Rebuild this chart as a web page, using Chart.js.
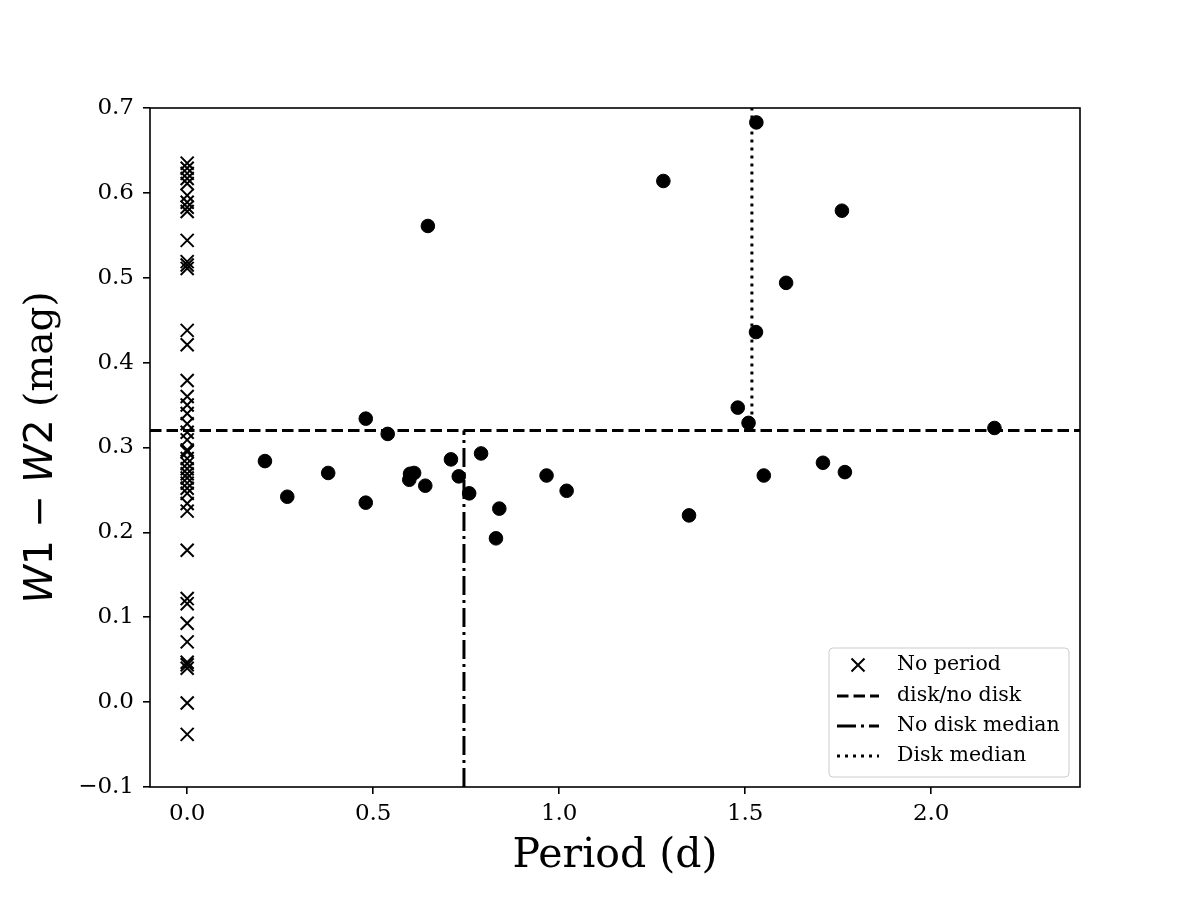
<!DOCTYPE html>
<html>
<head>
<meta charset="utf-8">
<script src="https://cdn.jsdelivr.net/npm/chart.js@4/dist/chart.umd.min.js"></script>
<style>
  html, body { margin: 0; padding: 0; background: #fff; }
  #c { display: block; }
</style>
</head>
<body>
<canvas id="c" width="1200" height="900"></canvas>
<script>
// ---- data ----
const noPeriodW12 = [0.635, 0.629, 0.623, 0.617, 0.611, 0.597, 0.589, 0.583, 0.578,
  0.544, 0.519, 0.515, 0.511, 0.438, 0.421, 0.379, 0.360, 0.350, 0.340, 0.328,
  0.318, 0.309, 0.297, 0.295, 0.287, 0.281, 0.275, 0.269, 0.264, 0.258, 0.252,
  0.246, 0.234, 0.225, 0.179, 0.122, 0.116, 0.093, 0.071, 0.047, 0.044, 0.040,
  -0.001, -0.038];
const periodDays = [0.209, 0.269, 0.379, 0.480, 0.480, 0.539, 0.599, 0.610, 0.597,
  0.640, 0.647, 0.709, 0.730, 0.758, 0.790, 0.839, 0.830, 0.966, 1.020, 1.280,
  1.349, 1.480, 1.509, 1.530, 1.529, 1.550, 1.610, 1.709, 1.760, 1.768, 2.170];
const periodW12 = [0.284, 0.242, 0.270, 0.334, 0.235, 0.316, 0.269, 0.270, 0.262,
  0.255, 0.561, 0.286, 0.266, 0.246, 0.293, 0.228, 0.193, 0.267, 0.249, 0.614,
  0.220, 0.347, 0.329, 0.683, 0.436, 0.267, 0.494, 0.282, 0.579, 0.271, 0.323];
const diskThreshold = 0.32;
const noDiskMedian = 0.744;
const diskMedian = 1.518;
const xTicks = [0.0, 0.5, 1.0, 1.5, 2.0];
const yTicks = [-0.1, 0.0, 0.1, 0.2, 0.3, 0.4, 0.5, 0.6, 0.7];
const xRange = [-0.1, 2.4];
const yRange = [-0.1, 0.7];
const legendLabels = ['No period', 'disk/no disk', 'No disk median', 'Disk median'];
const xTitle = 'Period (d)';

// ---- build datasets ----
const noPeriodPts = noPeriodW12.map(v => ({ x: 0, y: v }));
const periodPts = periodDays.map((p, i) => ({ x: p, y: periodW12[i] }));

const DASH = [11.5, 5];
const DASHDOT = [19, 5, 3, 5];
const DOT = [3, 5];

const framePlugin = {
  id: 'frameAndText',
  afterDraw(chart) {
    const ctx = chart.ctx;
    const a = chart.chartArea;
    ctx.save();
    // frame
    ctx.strokeStyle = '#000';
    ctx.lineWidth = 1.6;
    ctx.setLineDash([]);
    ctx.strokeRect(a.left, a.top, a.right - a.left, a.bottom - a.top);

    // x title
    ctx.fillStyle = '#000';
    ctx.font = '41px "DejaVu Serif"';
    ctx.textAlign = 'center';
    ctx.textBaseline = 'alphabetic';
    ctx.fillText(xTitle, (a.left + a.right) / 2, 867);

    // y title (mathtext-like)
    const F = 39;
    const segs = [
      { t: 'W', f: 'italic ' + F + 'px "DejaVu Sans"' },
      { t: '1', f: F + 'px "DejaVu Sans"' },
      { t: ' \u2212 ', f: F + 'px "DejaVu Sans"' },
      { t: 'W', f: 'italic ' + F + 'px "DejaVu Sans"' },
      { t: '2', f: F + 'px "DejaVu Sans"' },
      { t: ' (mag)', f: F + 'px "DejaVu Serif"' }
    ];
    let total = 0;
    segs.forEach(s => { ctx.font = s.f; s.w = ctx.measureText(s.t).width; total += s.w; });
    ctx.translate(52, (a.top + a.bottom) / 2);
    ctx.rotate(-Math.PI / 2);
    ctx.textAlign = 'left';
    let cx = -total / 2;
    segs.forEach(s => { ctx.font = s.f; ctx.fillText(s.t, cx, 0); cx += s.w; });
    ctx.restore();

    // legend
    ctx.save();
    const lx = 829, ly = 648, lw = 240, lh = 129, r = 4;
    ctx.beginPath();
    ctx.moveTo(lx + r, ly);
    ctx.arcTo(lx + lw, ly, lx + lw, ly + lh, r);
    ctx.arcTo(lx + lw, ly + lh, lx, ly + lh, r);
    ctx.arcTo(lx, ly + lh, lx, ly, r);
    ctx.arcTo(lx, ly, lx + lw, ly, r);
    ctx.closePath();
    ctx.fillStyle = 'rgba(255,255,255,0.8)';
    ctx.fill();
    ctx.strokeStyle = '#cccccc';
    ctx.lineWidth = 1;
    ctx.stroke();

    const rows = [665, 696, 726, 756];
    const h0 = 837, h1 = 879;
    ctx.strokeStyle = '#000';
    // X marker
    ctx.lineWidth = 2;
    const mx = (h0 + h1) / 2, my = rows[0], d = 6.5;
    ctx.beginPath();
    ctx.moveTo(mx - d, my - d); ctx.lineTo(mx + d, my + d);
    ctx.moveTo(mx - d, my + d); ctx.lineTo(mx + d, my - d);
    ctx.stroke();
    // line samples
    const dashes = [DASH, DASHDOT, DOT];
    ctx.lineWidth = 3;
    for (let i = 0; i < 3; i++) {
      ctx.setLineDash(dashes[i]);
      ctx.beginPath();
      ctx.moveTo(h0, rows[i + 1]);
      ctx.lineTo(h1, rows[i + 1]);
      ctx.stroke();
    }
    ctx.setLineDash([]);
    ctx.fillStyle = '#000';
    ctx.font = '20.5px "DejaVu Serif"';
    ctx.textAlign = 'left';
    ctx.textBaseline = 'middle';
    legendLabels.forEach((t, i) => ctx.fillText(t, 897, rows[i]));
    ctx.restore();
  }
};

const tickFont = { family: 'DejaVu Serif', size: 23 };
const fmt = v => (v < 0 ? '\u2212' + Math.abs(v).toFixed(1) : v.toFixed(1));

new Chart(document.getElementById('c'), {
  type: 'scatter',
  data: {
    datasets: [
      {
        label: legendLabels[0],
        data: noPeriodPts,
        pointStyle: 'crossRot',
        pointRadius: 9.2,
        pointBorderWidth: 2,
        borderColor: '#000',
        backgroundColor: '#000',
        order: 1
      },
      {
        label: 'Period',
        data: periodPts,
        pointStyle: 'circle',
        pointRadius: 6.8,
        pointBorderWidth: 1,
        borderColor: '#000',
        backgroundColor: '#000',
        order: 0
      },
      {
        label: legendLabels[1],
        type: 'line',
        data: [{ x: xRange[0], y: diskThreshold }, { x: xRange[1], y: diskThreshold }],
        borderColor: '#000',
        borderWidth: 3,
        borderDash: DASH,
        pointRadius: 0,
        fill: false,
        order: 2
      },
      {
        label: legendLabels[2],
        type: 'line',
        data: [{ x: noDiskMedian, y: yRange[0] }, { x: noDiskMedian, y: diskThreshold }],
        borderColor: '#000',
        borderWidth: 3,
        borderDash: DASHDOT,
        pointRadius: 0,
        fill: false,
        order: 2
      },
      {
        label: legendLabels[3],
        type: 'line',
        data: [{ x: diskMedian, y: diskThreshold }, { x: diskMedian, y: yRange[1] }],
        borderColor: '#000',
        borderWidth: 3,
        borderDash: DOT,
        pointRadius: 0,
        fill: false,
        order: 2
      }
    ]
  },
  options: {
    responsive: false,
    animation: false,
    devicePixelRatio: 1,
    layout: { padding: { top: 108, right: 120, left: 0, bottom: 0 } },
    plugins: { legend: { display: false }, tooltip: { enabled: false } },
    scales: {
      x: {
        type: 'linear',
        min: xRange[0],
        max: xRange[1],
        afterBuildTicks: s => { s.ticks = xTicks.map(v => ({ value: v })); },
        afterFit: s => { s.height = 113; },
        ticks: { font: tickFont, color: '#000', padding: 6, autoSkip: false, maxRotation: 0, callback: v => fmt(v) },
        grid: { display: true, drawOnChartArea: false, drawTicks: true, tickLength: 7, color: '#000', lineWidth: 1.6 },
        border: { display: false }
      },
      y: {
        type: 'linear',
        min: yRange[0],
        max: yRange[1],
        afterBuildTicks: s => { s.ticks = yTicks.map(v => ({ value: v })); },
        afterFit: s => { s.width = 150; },
        ticks: { font: tickFont, color: '#000', padding: 9, autoSkip: false, callback: v => fmt(v) },
        grid: { display: true, drawOnChartArea: false, drawTicks: true, tickLength: 7, color: '#000', lineWidth: 1.6 },
        border: { display: false }
      }
    }
  },
  plugins: [framePlugin]
});
</script>
</body>
</html>
